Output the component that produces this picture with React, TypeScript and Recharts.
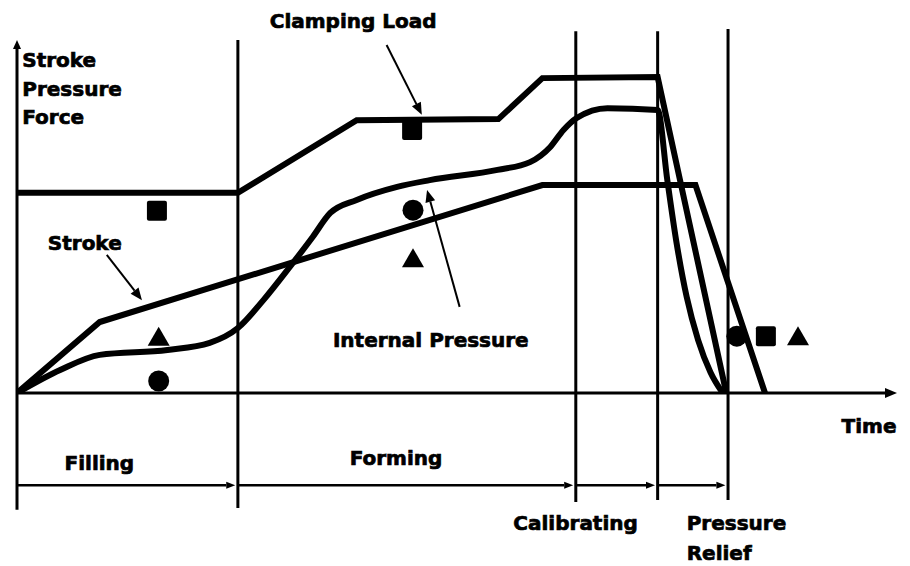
import { ComposedChart, Line, Scatter, XAxis, YAxis, ReferenceLine, ReferenceDot } from 'recharts';

// schematic units: time 0..100, level 0..100
const strokeTime = [0, 9.4, 59.7, 77.1, 85.0];
const strokeLevel = [0, 20.1, 58.9, 58.9, 0];

const clampTime = [0, 25.1, 38.6, 54.7, 59.7, 72.8, 80.6];
const clampLevel = [56.7, 56.7, 77.3, 77.6, 89.2, 89.5, 0];

const pressureTime = [0, 4.9, 9.4, 17.1, 21.9, 25.1, 28.0, 31.0, 33.6, 35.6, 38.6, 43.2, 46.9, 54.6, 58.3, 60.6, 62.1, 63.6, 67.1, 72.8, 73.9, 74.9, 76.1, 77.4, 78.8, 80.2];
const pressureLevel = [0, 6.5, 10.8, 12.2, 14.2, 18.4, 26.3, 35.7, 44.2, 51.0, 54.7, 58.4, 60.3, 63.2, 65.4, 69.7, 74.5, 77.9, 80.7, 80.2, 60.3, 43.3, 27.2, 15.0, 5.9, 0];

// symbols that tag each curve
const clampMarkTime = [15.9, 44.9, 85.1];
const clampMarkLevel = [51.6, 74.5, 16.1];
const pressureMarkTime = [16.1, 45.0, 81.8];
const pressureMarkLevel = [3.4, 51.8, 16.1];
const strokeMarkTime = [16.1, 45.0, 88.75];
const strokeMarkLevel = [15.9, 38.2, 16.1];

// phase boundaries
const phaseStart = [0, 25.1, 63.5, 72.8];
const phaseEnd = [25.1, 63.5, 72.8, 80.8];

const zip = (t: number[], v: number[]) => t.map((x, i) => ({ t: x, v: v[i] }));

const strokeData = zip(strokeTime, strokeLevel);
const clampData = zip(clampTime, clampLevel);
const pressureData = zip(pressureTime, pressureLevel);

const INK = '#000';
const FONT = "'DejaVu Sans', sans-serif";

const arrow = (len: number, half: number, w: number) => (p: any) => {
  const { x1, y1, x2, y2 } = p;
  const a = Math.atan2(y2 - y1, x2 - x1);
  const bx = x2 - len * Math.cos(a);
  const by = y2 - len * Math.sin(a);
  const nx = -Math.sin(a) * half;
  const ny = Math.cos(a) * half;
  return (
    <g>
      <line x1={x1} y1={y1} x2={bx} y2={by} stroke={INK} strokeWidth={w} />
      <polygon points={`${x2},${y2} ${bx + nx},${by + ny} ${bx - nx},${by - ny}`} fill={INK} />
    </g>
  );
};

const square = (p: any) => <rect x={p.cx - 10} y={p.cy - 10} width={20} height={20} rx={2} fill={INK} />;
const circle = (p: any) => <circle cx={p.cx} cy={p.cy} r={10.5} fill={INK} />;
const triangle = (p: any) => (
  <polygon points={`${p.cx},${p.cy - 10} ${p.cx + 11},${p.cy + 9} ${p.cx - 11},${p.cy + 9}`} fill={INK} />
);

const text = (s: string, anchor: 'start' | 'middle' = 'start') => (p: any) => (
  <text
    x={p.cx}
    y={p.cy}
    textAnchor={anchor}
    fontFamily={FONT}
    fontWeight="bold"
    fontSize={20}
    fill={INK}
    stroke={INK}
    strokeWidth={0.7}
  >
    {s}
  </text>
);

const labels: { s: string; t: number; v: number; anchor?: 'start' | 'middle' }[] = [
  { s: 'Clamping Load', t: 38.2, v: 103.4, anchor: 'middle' },
  { s: 'Stroke', t: 0.6, v: 92.4 },
  { s: 'Pressure', t: 0.6, v: 84.1 },
  { s: 'Force', t: 0.6, v: 76.2 },
  { s: 'Stroke', t: 3.5, v: 40.5 },
  { s: 'Internal Pressure', t: 35.9, v: 13.0 },
  { s: 'Time', t: 93.7, v: -11.3 },
  { s: 'Filling', t: 5.4, v: -21.7 },
  { s: 'Forming', t: 37.8, v: -20.4 },
  { s: 'Calibrating', t: 56.4, v: -38.8 },
  { s: 'Pressure', t: 76.1, v: -38.8 },
  { s: 'Relief', t: 76.1, v: -47.3 },
];

const pointers = [
  { from: [42.0, 98.6], to: [46.0, 78.8] },
  { from: [10.2, 39.1], to: [14.2, 26.3] },
  { from: [50.3, 24.4], to: [46.6, 57.5] },
];

const dividers = [
  { t: 25.1, top: 100, bottom: -32.6 },
  { t: 63.5, top: 102.5, bottom: -30.9 },
  { t: 72.8, top: 102.5, bottom: -30.3 },
  { t: 80.8, top: 103.1, bottom: -30.3 },
];

export default function App() {
  return (
    <div style={{ position: 'absolute', left: 0, top: 0, width: 910, height: 566, background: '#fff' }}>
      <ComposedChart width={910} height={566} margin={{ top: 40, right: 13, bottom: 173, left: 17 }}>
        <XAxis type="number" dataKey="t" domain={[0, 100]} hide allowDataOverflow />
        <YAxis type="number" dataKey="v" domain={[0, 100]} hide allowDataOverflow />

        {dividers.map((d, i) => (
          <ReferenceLine
            key={'d' + i}
            segment={[{ x: d.t, y: d.bottom }, { x: d.t, y: d.top }]}
            stroke={INK}
            strokeWidth={3}
            ifOverflow="visible"
          />
        ))}

        {/* axes */}
        <ReferenceLine segment={[{ x: 0, y: -33.1 }, { x: 0, y: 100 }]} ifOverflow="visible" shape={arrow(9, 4, 3)} />
        <ReferenceLine segment={[{ x: 0, y: 0 }, { x: 100, y: 0 }]} ifOverflow="visible" shape={arrow(12, 5, 3)} />

        {/* phase arrows */}
        {phaseStart.map((s, i) => (
          <ReferenceLine
            key={'p' + i}
            segment={[{ x: s, y: -26.1 }, { x: phaseEnd[i] - 0.3, y: -26.1 }]}
            ifOverflow="visible"
            shape={arrow(9, 3.5, 2.5)}
          />
        ))}

        {pointers.map((a, i) => (
          <ReferenceLine
            key={'a' + i}
            segment={[{ x: a.from[0], y: a.from[1] }, { x: a.to[0], y: a.to[1] }]}
            ifOverflow="visible"
            shape={arrow(12, 5, 2)}
          />
        ))}

        <Line data={clampData} dataKey="v" type="linear" stroke={INK} strokeWidth={6} dot={false} isAnimationActive={false} />
        <Line data={strokeData} dataKey="v" type="linear" stroke={INK} strokeWidth={6} dot={false} isAnimationActive={false} />
        <Line data={pressureData} dataKey="v" type="monotone" stroke={INK} strokeWidth={6} dot={false} isAnimationActive={false} />

        <Scatter data={zip(clampMarkTime, clampMarkLevel)} dataKey="v" shape={square} isAnimationActive={false} />
        <Scatter data={zip(pressureMarkTime, pressureMarkLevel)} dataKey="v" shape={circle} isAnimationActive={false} />
        <Scatter data={zip(strokeMarkTime, strokeMarkLevel)} dataKey="v" shape={triangle} isAnimationActive={false} />

        {labels.map((l, i) => (
          <ReferenceDot key={'l' + i} x={l.t} y={l.v} ifOverflow="visible" shape={text(l.s, l.anchor)} />
        ))}
      </ComposedChart>
    </div>
  );
}
